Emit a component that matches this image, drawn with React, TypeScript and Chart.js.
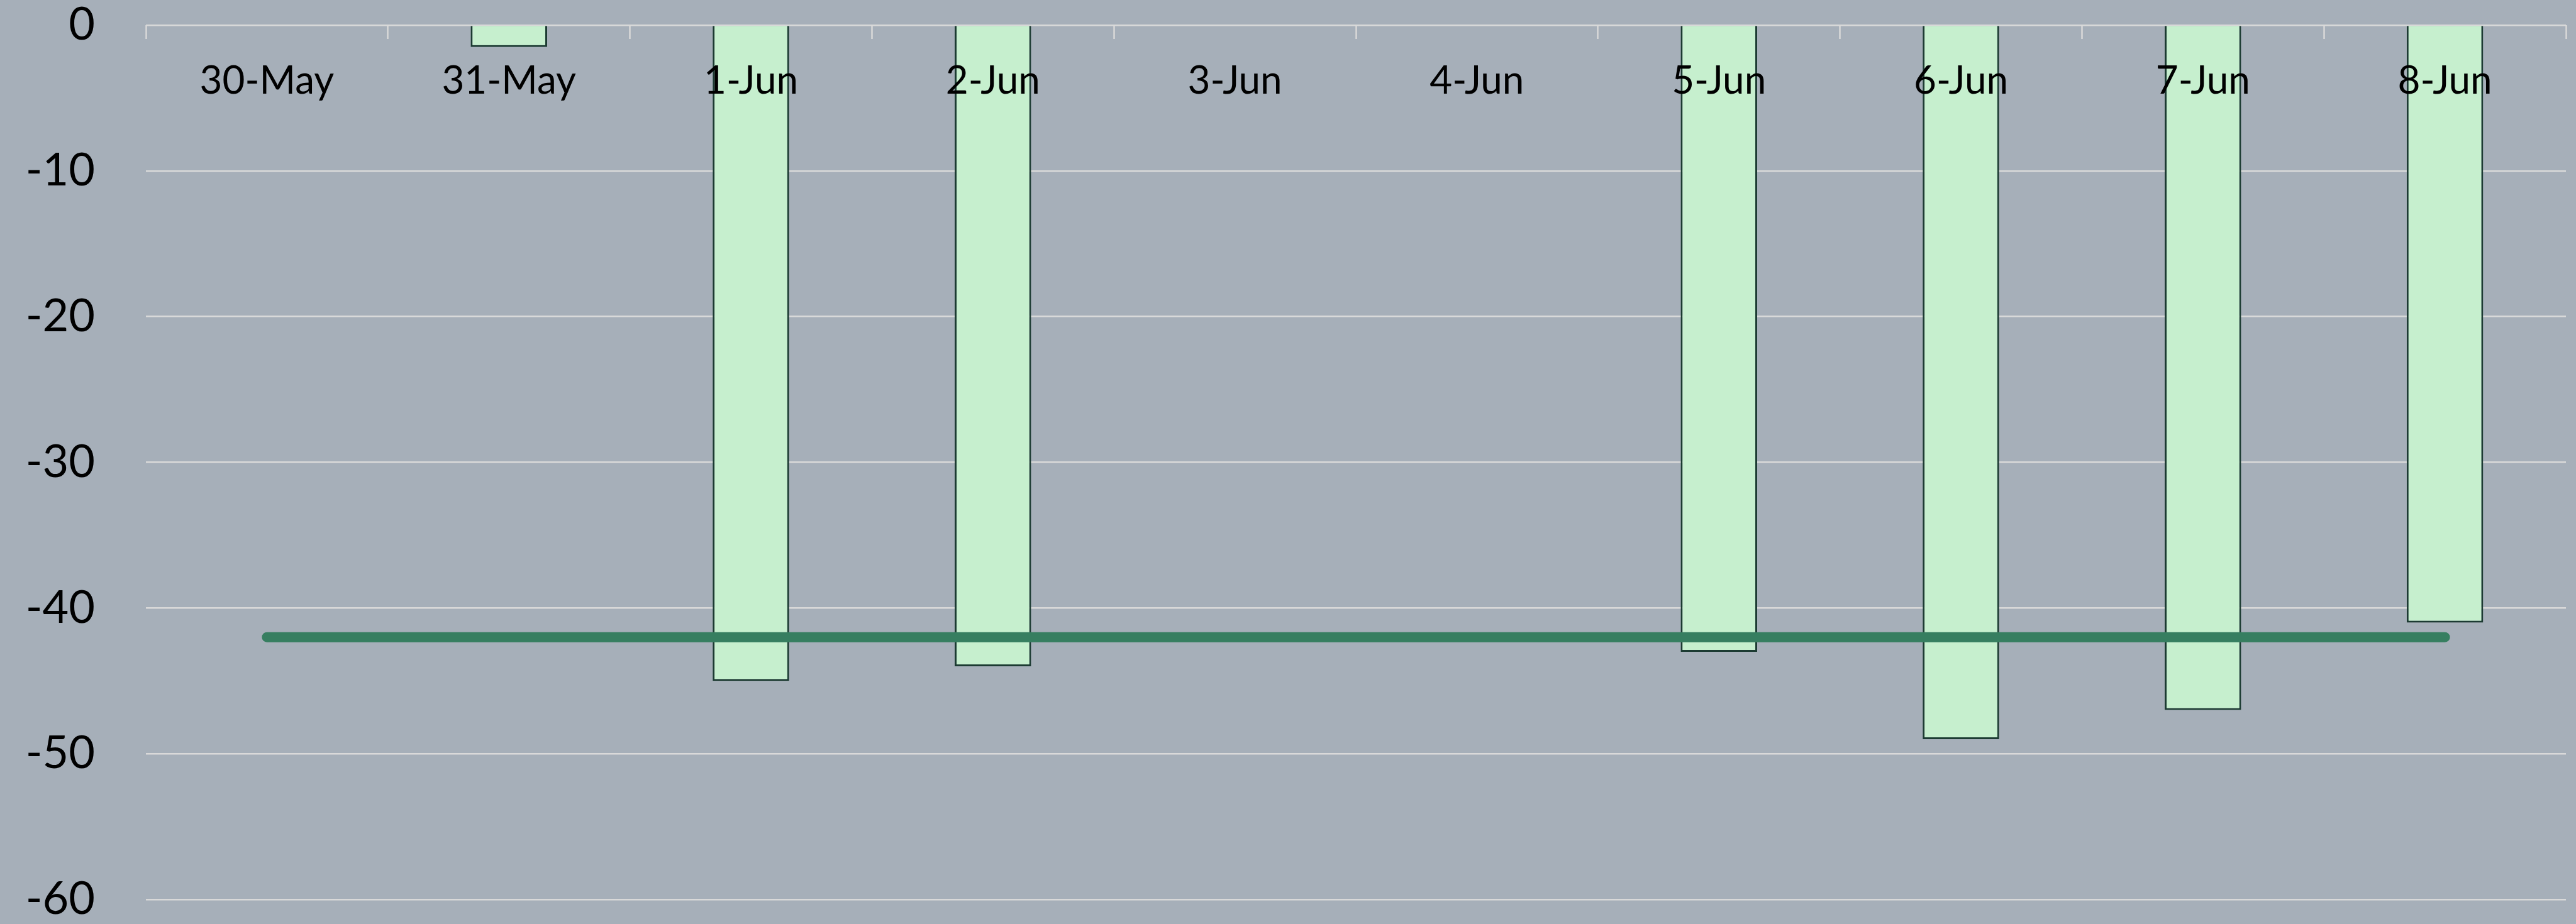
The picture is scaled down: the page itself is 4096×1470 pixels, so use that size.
import React, { useEffect, useRef } from "react";
import { Chart, registerables } from "chart.js";

Chart.register(...registerables);

const categories = ["30-May", "31-May", "1-Jun", "2-Jun", "3-Jun", "4-Jun", "5-Jun", "6-Jun", "7-Jun", "8-Jun"];
const barValues: (number | null)[] = [null, -1.5, -45, -44, null, null, -43, -49, -47, -41];
const lineValues = [-42, -42, -42, -42, -42, -42, -42, -42, -42, -42];
const yMin = -60;
const yMax = 0;
const yStep = 10;

const W = 4096;
const H = 1470;
const BG = "#a6afb9";
const GRID = "#d9d9d9";

export default function App() {
  const ref = useRef<HTMLCanvasElement | null>(null);

  useEffect(() => {
    if (!ref.current) return;
    const chart = new Chart(ref.current, {
      data: {
        labels: categories,
        datasets: [
          {
            type: "line",
            data: lineValues,
            borderColor: "#367e60",
            backgroundColor: "#367e60",
            borderWidth: 16,
            borderCapStyle: "round",
            pointRadius: 0,
            fill: false,
            order: 0,
          },
          {
            type: "bar",
            data: barValues,
            backgroundColor: "#c6efce",
            borderColor: "#1c3b32",
            borderWidth: 3,
            categoryPercentage: 1,
            barPercentage: 0.316,
            order: 1,
          },
        ],
      } as any,
      options: {
        responsive: false,
        animation: false,
        devicePixelRatio: 1,
        layout: { padding: { top: 40, bottom: 39, left: 0, right: 16 } },
        plugins: { legend: { display: false }, tooltip: { enabled: false } },
        scales: {
          x: {
            type: "category",
            position: { y: 0 } as any,
            offset: true,
            afterFit: (s: any) => {
              s.height = 0;
            },
            grid: {
              display: true,
              offset: true,
              drawOnChartArea: false,
              drawTicks: true,
              tickLength: 22,
              tickColor: GRID,
              tickWidth: 2.5,
              color: GRID,
            },
            border: { display: false },
            ticks: {
              z: 1,
              color: "#000",
              font: { family: "Lato", size: 62, lineHeight: 1.2 },
              padding: 30,
              maxRotation: 0,
              autoSkip: false,
            },
          } as any,
          y: {
            type: "linear",
            min: yMin,
            max: yMax,
            afterFit: (s: any) => {
              s.width = 232;
              s.paddingTop = 36;
              s.paddingBottom = 36;
            },
            grid: { color: GRID, lineWidth: 2.5, drawTicks: false },
            border: { display: false },
            ticks: {
              stepSize: yStep,
              color: "#000",
              padding: 81,
              font: { family: "Lato", size: 72, lineHeight: 1 },
            },
          },
        },
      },
    });
    return () => chart.destroy();
  }, []);

  return (
    <div style={{ position: "fixed", left: 0, top: 0, width: W, height: H, background: BG }}>
      <canvas ref={ref} width={W} height={H} style={{ width: W, height: H, display: "block" }} />
    </div>
  );
}
